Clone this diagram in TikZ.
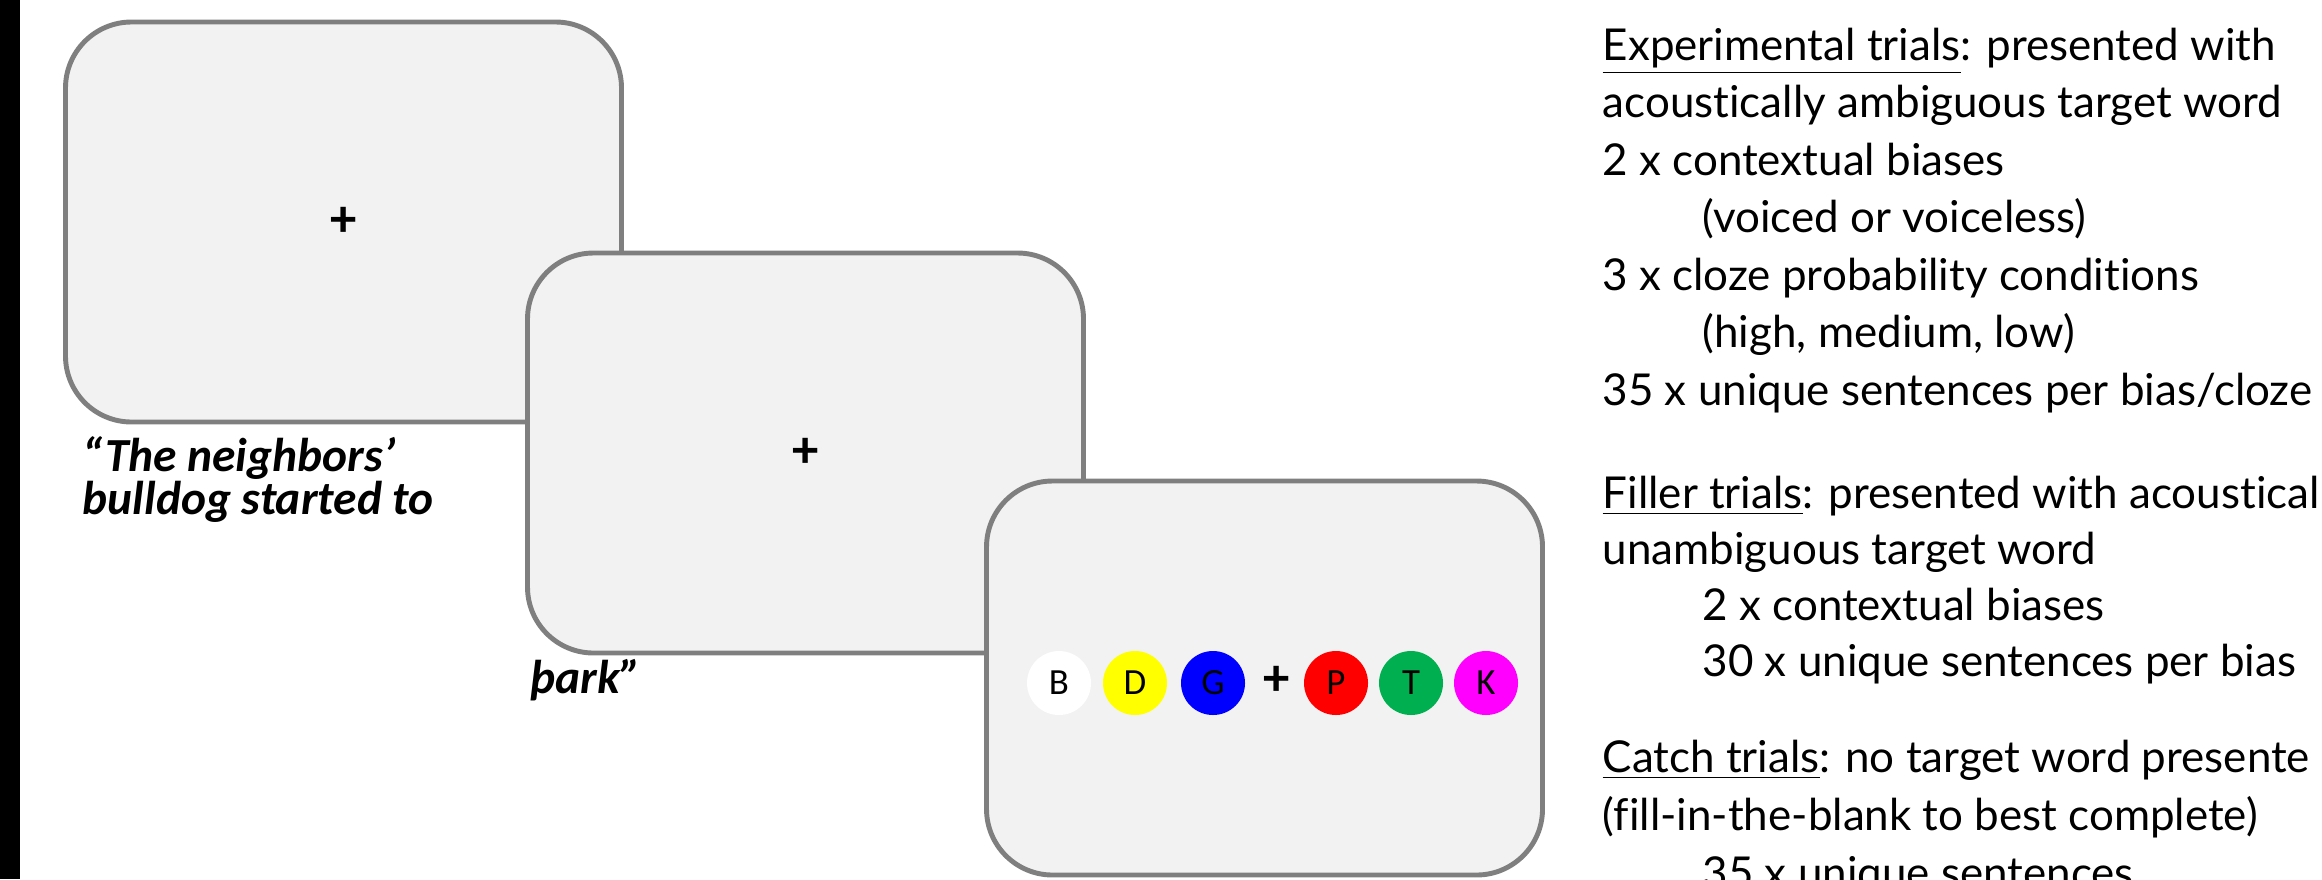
\documentclass[tikz,border=0pt]{standalone}
\usepackage{fontspec}
\setmainfont{Lato}[Ligatures=NoCommon]
\newfontfamily\cuefont{Carlito}
\usepackage{tikz}
\usetikzlibrary{shapes,positioning}
\definecolor{scrgray}{RGB}{127,127,127}
\definecolor{scrfill}{RGB}{242,242,242}
\definecolor{keyyellow}{RGB}{255,255,0}
\definecolor{keyblue}{RGB}{0,0,255}
\definecolor{keyred}{RGB}{255,0,0}
\definecolor{keygreen}{RGB}{0,176,80}
\definecolor{keymagenta}{RGB}{255,0,255}
\tikzstyle{screen} = [draw=scrgray, line width=1.4pt, fill=scrfill, rounded corners=0.66cm, minimum width=5.56cm, minimum height=4cm, font=\cuefont\bfseries\fontsize{15}{15}\selectfont]
\tikzstyle{key} = [circle, minimum size=0.64cm, inner sep=0pt, font=\cuefont\fontsize{10.5}{10.5}\selectfont]
\tikzstyle{cue} = [anchor=base west, inner sep=0pt, align=left, font=\cuefont\bfseries\itshape\fontsize{13.5}{12.2}\selectfont]
\tikzstyle{info} = [anchor=base west, inner sep=0pt, font=\fontsize{12.5}{12.5}\selectfont]

\begin{document}
\begin{tikzpicture}
\clip (0,0) rectangle (23.22,8.79);
\fill (0,0) rectangle (0.2,8.79);

% Trial screens
\node[screen] (fix1) at (3.435,6.57) {+};
\node[screen] (fix2) at (8.055,4.26) {+};
\node[screen, minimum height=3.94cm] (resp) at (12.645,2.01) {};

% Sentence
\node[cue] (cue1) at (0.82,3.65) {“The neighbors’\\bulldog started to};
\node[cue] (cue2) at (5.30,1.86) {þark”};

% Response keys
\node[key, fill=white] (keyB) at (10.59,1.96) {B};
\node[key, fill=keyyellow] (keyD) at (11.35,1.96) {D};
\node[key, fill=keyblue] (keyG) at (12.13,1.96) {G};
\node[font=\cuefont\bfseries\fontsize{15}{15}\selectfont] (keyfix) at (12.77,1.98) {+};
\node[key, fill=keyred] (keyP) at (13.36,1.96) {P};
\node[key, fill=keygreen] (keyT) at (14.11,1.96) {T};
\node[key, fill=keymagenta] (keyK) at (14.86,1.96) {K};

% Trial types
\node[info] (exp1) at (16.02,8.19) {\underline{Experimental trials}: presented with};
\node[info] (exp2) at (16.02,7.62) {acoustically ambiguous target word};
\node[info] (exp3) at (16.02,7.04) {2 x contextual biases};
\node[info] (exp4) at (17.02,6.47) {(voiced or voiceless)};
\node[info] (exp5) at (16.02,5.89) {3 x cloze probability conditions};
\node[info] (exp6) at (17.02,5.32) {(high, medium, low)};
\node[info] (exp7) at (16.02,4.74) {35 x unique sentences per bias/cloze};

\node[info] (fil1) at (16.02,3.71) {\underline{Filler trials}: presented with acoustical};
\node[info] (fil2) at (16.02,3.15) {unambiguous target word};
\node[info] (fil3) at (17.02,2.59) {2 x contextual biases};
\node[info] (fil4) at (17.02,2.03) {30 x unique sentences per bias};

\node[info] (cat1) at (16.02,1.07) {\underline{Catch trials}: no target word presente};
\node[info] (cat2) at (16.02,0.49) {(fill-in-the-blank to best complete)};
\node[info] (cat3) at (17.02,-0.09) {35 x unique sentences};
\end{tikzpicture}
\end{document}
